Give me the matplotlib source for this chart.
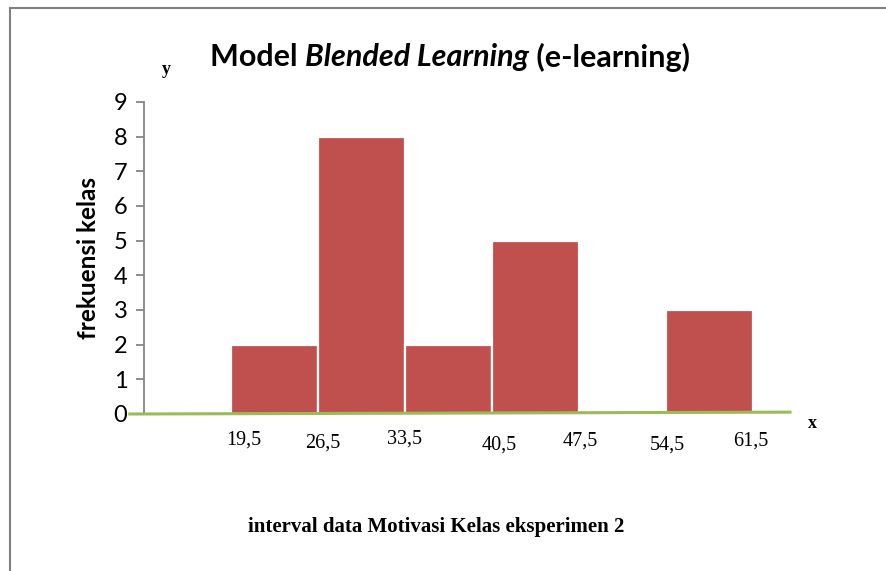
import matplotlib
matplotlib.use("Agg")
import matplotlib.pyplot as plt
from matplotlib.lines import Line2D

# ---- data ----
slots = [0, 1, 2, 3, 4, 5, 6]
freq = [0, 2, 8, 2, 5, 0, 3]
edge_labels = ["19,5", "26,5", "33,5", "40,5", "47,5", "54,5", "61,5"]
yticks = [0, 1, 2, 3, 4, 5, 6, 7, 8, 9]
title_parts = [("Model ", "normal"), ("Blended Learning", "italic"), (" (e-learning)", "normal")]
ylabel = "frekuensi kelas"
xlabel = "interval data Motivasi Kelas eksperimen 2"

W, H = 887, 571
fig = plt.figure(figsize=(W / 100, H / 100), dpi=100)
fig.patch.set_facecolor("white")

def fx(px):
    return px / W

def fy(py):
    return 1 - py / H

ax = fig.add_axes([fx(144), fy(414), fx(790) - fx(144), fy(102) - fy(414)])
ax.set_facecolor("white")
ax.bar(slots, freq, width=1.0, color="#C0504D", edgecolor="white", linewidth=1.6, zorder=2)
ax.set_xlim(-0.5, -0.5 + (790 - 144) / 87)
ax.set_ylim(0, 9)
ax.set_yticks(yticks)
ax.set_yticklabels([str(v) for v in yticks], fontfamily="Lato", fontsize=17)
ax.set_xticks([])
for s in ["top", "right", "bottom"]:
    ax.spines[s].set_visible(False)
ax.spines["left"].set_color("#868686")
ax.spines["left"].set_linewidth(1.3)
ax.tick_params(axis="y", direction="out", length=6, width=1.3, color="#868686", pad=6)

# green baseline
ax.add_line(Line2D([-0.022, 1.0], [0.0, 0.006], transform=ax.transAxes,
                   color="#9BBB59", linewidth=2.2, clip_on=False, zorder=3))

# edge labels (bin boundaries)
dxs = [0.15, 0.05, -0.01, 0.08, 0.01, 0.01, -0.03]
dys = [-26, -29, -25, -31, -27, -31, -27]
for i, lab in enumerate(edge_labels):
    ax.annotate(lab, xy=(slots[i] + 0.5 + dxs[i], 0), xytext=(0, dys[i]),
                textcoords="offset pixels", ha="center", va="center",
                fontfamily="Liberation Serif", fontsize=14.5, color="black",
                annotation_clip=False)

# axis letters
fig.text(fx(166), fy(70), "y", fontfamily="Liberation Serif", fontweight="bold",
         fontsize=13, ha="center", va="center")
fig.text(fx(812), fy(424), "x", fontfamily="Liberation Serif", fontweight="bold",
         fontsize=13, ha="center", va="center")

# y label
fig.text(fx(89), fy(258), ylabel, rotation=90, fontfamily="Lato",
         fontweight="bold", fontsize=17.5, ha="center", va="center")

# x label
fig.text(fx(436), fy(527), xlabel, fontfamily="Liberation Serif", fontweight="bold",
         fontsize=15, ha="center", va="center")

# title composed of pieces
renderer = fig.canvas.get_renderer()
x = fx(210)
for txt, style in title_parts:
    t = fig.text(x, fy(57), txt, fontfamily="Lato", fontweight="bold",
                 fontstyle=style, fontsize=22, ha="left", va="center")
    bb = t.get_window_extent(renderer=renderer)
    x += bb.width / W

# border
fig.add_artist(Line2D([fx(10), fx(10)], [fy(8), 0], color="#808080", linewidth=1.5))
fig.add_artist(Line2D([fx(10), 1], [fy(8), fy(8)], color="#808080", linewidth=1.5))

fig.savefig("out.png", dpi=100, facecolor="white")
